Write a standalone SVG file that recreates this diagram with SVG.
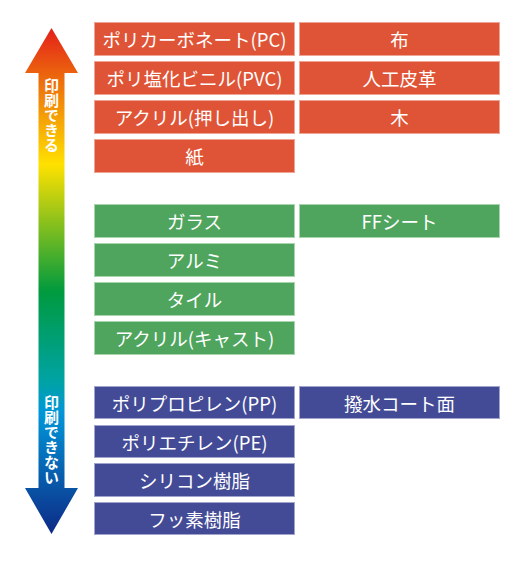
<svg xmlns="http://www.w3.org/2000/svg" width="521" height="561" viewBox="0 0 521 561">
<defs>
<linearGradient id="g" x1="0" y1="28" x2="0" y2="534" gradientUnits="userSpaceOnUse">
<stop offset="0" stop-color="#E41F1B"/>
<stop offset="0.1" stop-color="#EC6A0C"/>
<stop offset="0.27" stop-color="#FFE100"/>
<stop offset="0.52" stop-color="#009A3E"/>
<stop offset="0.7" stop-color="#00A3A6"/>
<stop offset="0.76" stop-color="#0096D8"/>
<stop offset="1" stop-color="#0E2A86"/>
</linearGradient>
<style>
.r{fill:#DF5436;stroke:#EFA593;stroke-width:1}
.gr{fill:#4FA55E;stroke:#A8D4AE;stroke-width:1}
.b{fill:#434B96;stroke:#A1A5CB;stroke-width:1}
.t{font-family:"Noto Sans CJK JP","Noto Sans",sans-serif;font-size:18.5px;fill:#fff;text-anchor:middle;dominant-baseline:central}
.v{font-family:"Noto Sans CJK JP","Noto Sans",sans-serif;font-size:15px;font-weight:bold;fill:#fff;writing-mode:vertical-rl;text-anchor:start}
</style>
</defs>
<g id="arrow">
<path d="M51.5,28 L78,73 L64.5,73 L64.5,488 L78,488 L51.5,534 L25,488 L38.5,488 L38.5,73 L25,73 Z" fill="url(#g)"/>
<text class="v" x="51.5" y="78">印刷できる</text>
<text class="v" x="51.5" y="395">印刷できない</text>
</g>
<g id="pc"><rect class="r" x="94.5" y="22.5" width="200" height="33"/><text class="t" x="194.5" y="39">ポリカーボネート(PC)</text></g>
<g id="cloth"><rect class="r" x="299.5" y="22.5" width="200" height="33"/><text class="t" x="399.5" y="39">布</text></g>
<g id="pvc"><rect class="r" x="94.5" y="61.5" width="200" height="33"/><text class="t" x="194.5" y="78">ポリ塩化ビニル(PVC)</text></g>
<g id="leather"><rect class="r" x="299.5" y="61.5" width="200" height="33"/><text class="t" x="399.5" y="78">人工皮革</text></g>
<g id="acryl-ex"><rect class="r" x="94.5" y="100.5" width="200" height="33"/><text class="t" x="194.5" y="117">アクリル(押し出し)</text></g>
<g id="wood"><rect class="r" x="299.5" y="100.5" width="200" height="33"/><text class="t" x="399.5" y="117">木</text></g>
<g id="paper"><rect class="r" x="94.5" y="139.5" width="200" height="33"/><text class="t" x="194.5" y="156">紙</text></g>
<g id="glass"><rect class="gr" x="94.5" y="204.5" width="200" height="33"/><text class="t" x="194.5" y="221">ガラス</text></g>
<g id="ff"><rect class="gr" x="299.5" y="204.5" width="200" height="33"/><text class="t" x="399.5" y="221">FFシート</text></g>
<g id="alumi"><rect class="gr" x="94.5" y="243.5" width="200" height="33"/><text class="t" x="194.5" y="260">アルミ</text></g>
<g id="tile"><rect class="gr" x="94.5" y="282.5" width="200" height="33"/><text class="t" x="194.5" y="299">タイル</text></g>
<g id="acryl-cast"><rect class="gr" x="94.5" y="321.5" width="200" height="33"/><text class="t" x="194.5" y="338">アクリル(キャスト)</text></g>
<g id="pp"><rect class="b" x="94.5" y="386.5" width="200" height="32"/><text class="t" x="194.5" y="402.5">ポリプロピレン(PP)</text></g>
<g id="water"><rect class="b" x="299.5" y="386.5" width="200" height="32"/><text class="t" x="399.5" y="402.5">撥水コート面</text></g>
<g id="pe"><rect class="b" x="94.5" y="425.5" width="200" height="32"/><text class="t" x="194.5" y="441.5">ポリエチレン(PE)</text></g>
<g id="silicon"><rect class="b" x="94.5" y="463.5" width="200" height="33"/><text class="t" x="194.5" y="480">シリコン樹脂</text></g>
<g id="fluoro"><rect class="b" x="94.5" y="502.5" width="200" height="32"/><text class="t" x="194.5" y="518.5">フッ素樹脂</text></g>
<g id="connectors"/>
</svg>
